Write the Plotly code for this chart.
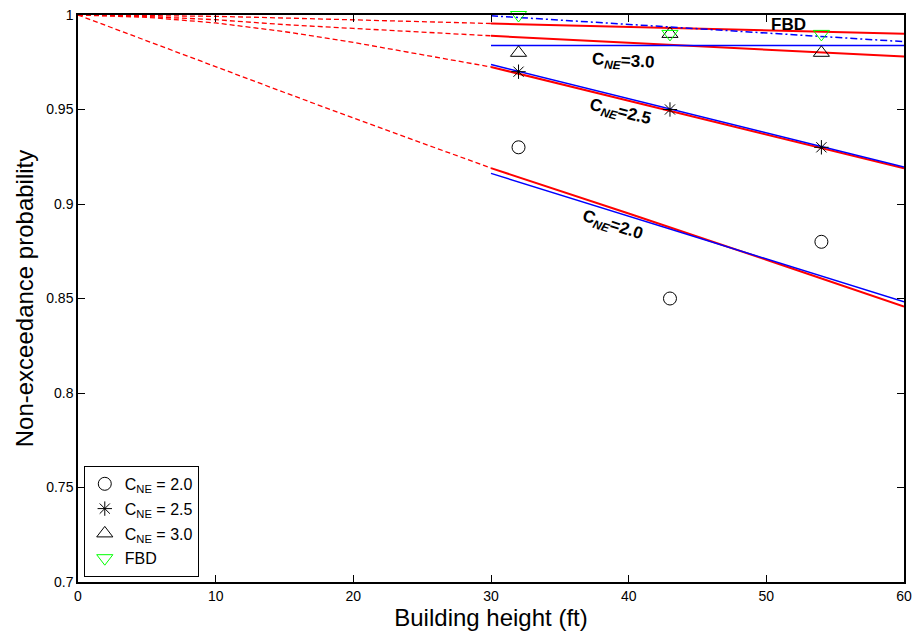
import plotly.graph_objects as go

# Building heights (ft) for the fitted curves and the observations
fit_heights_low = [0, 5, 10, 15, 20, 25, 30]
fit_heights_high = [30, 40, 50, 60]
lin_heights = [30, 60]
obs_heights = [32, 43, 54]

# Fitted non-exceedance curves (red): dashed below 30 ft, solid above
red_ne20_low = [1.0, 0.9862, 0.9725, 0.959, 0.9455, 0.9322, 0.919]
red_ne20_high = [0.919, 0.895, 0.8705, 0.8457]
red_ne25_low = [1.0, 0.9988, 0.9958, 0.9912, 0.9855, 0.979, 0.9725]
red_ne25_high = [0.9725, 0.9546, 0.9368, 0.9189]
red_ne30_low = [1.0, 0.9992, 0.9975, 0.9949, 0.9929, 0.991, 0.989]
red_ne30_high = [0.989, 0.9853, 0.9817, 0.978]
red_fbd_low = [1.0, 0.9998, 0.9993, 0.9984, 0.9975, 0.9965, 0.9955]
red_fbd_high = [0.9955, 0.9937, 0.9919, 0.9901]

# Linear trends (blue) over 30-60 ft
blue_ne20 = [0.9162, 0.8483]
blue_ne25 = [0.9738, 0.9196]
blue_ne30 = [0.9838, 0.9838]
blue_fbd = [0.9996, 0.9859]

# Observed non-exceedance probabilities
obs_ne20 = [0.93, 0.85, 0.88]
obs_ne25 = [0.97, 0.95, 0.93]
obs_ne30 = [0.98, 0.99, 0.98]
obs_fbd = [1.0, 0.99, 0.99]

RED = "#ff0000"
BLUE = "#0000ff"
GREEN = "#00ff00"
FONT = "Arial, Liberation Sans, Helvetica, sans-serif"

fig = go.Figure()

for low, high in [(red_ne20_low, red_ne20_high), (red_ne25_low, red_ne25_high),
                  (red_ne30_low, red_ne30_high), (red_fbd_low, red_fbd_high)]:
    fig.add_trace(go.Scatter(x=fit_heights_low, y=low, mode="lines",
                             line=dict(color=RED, width=1.3, dash="5px,3px"),
                             showlegend=False, hoverinfo="skip"))
    fig.add_trace(go.Scatter(x=fit_heights_high, y=high, mode="lines",
                             line=dict(color=RED, width=2),
                             showlegend=False, hoverinfo="skip"))

for vals in [blue_ne20, blue_ne25, blue_ne30]:
    fig.add_trace(go.Scatter(x=lin_heights, y=vals, mode="lines",
                             line=dict(color=BLUE, width=1.5),
                             showlegend=False, hoverinfo="skip"))
fig.add_trace(go.Scatter(x=lin_heights, y=blue_fbd, mode="lines",
                         line=dict(color=BLUE, width=1.5, dash="7px,3px,2px,3px"),
                         showlegend=False, hoverinfo="skip"))

markers = [
    ("C<sub>NE</sub> = 2.0", obs_ne20, "circle-open", "black", 13),
    ("C<sub>NE</sub> = 2.5", obs_ne25, "asterisk-open", "black", 12),
    ("C<sub>NE</sub> = 3.0", obs_ne30, "triangle-up-open", "black", 14),
    ("FBD", obs_fbd, "triangle-down-open", GREEN, 14),
]
for i, (name, vals, sym, col, size) in enumerate(markers):
    fig.add_trace(go.Scatter(x=obs_heights, y=vals, mode="markers", name=name,
                             legendgroup=str(i), cliponaxis=False,
                             marker=dict(symbol=sym, size=size, color=col,
                                         line=dict(color=col, width=1))))

label_font = dict(family=FONT, size=17, color="black")
labels = [
    ("<b>C<sub><i>NE</i></sub>=3.0</b>", 39.6, 0.9752, 3),
    ("<b>C<sub><i>NE</i></sub>=2.5</b>", 39.4, 0.9484, 14),
    ("<b>C<sub><i>NE</i></sub>=2.0</b>", 38.8, 0.8882, 18),
    ("<b>FBD</b>", 51.6, 0.9952, 0),
]
for text, x, y, ang in labels:
    fig.add_annotation(x=x, y=y, text=text, showarrow=False, textangle=ang,
                       font=label_font, xref="x", yref="y")

axis_common = dict(
    showgrid=False, zeroline=False, showline=True, linecolor="black",
    linewidth=1.5, mirror="ticks", ticks="inside", ticklen=7,
    tickcolor="black", tickwidth=1, automargin=False,
    tickfont=dict(family=FONT, size=14, color="black"),
)

fig.update_layout(
    width=916, height=632,
    margin=dict(l=78, r=12, t=15, b=50),
    plot_bgcolor="white", paper_bgcolor="white",
    font=dict(family=FONT, color="black"),
    xaxis=dict(range=[0, 60], tickvals=[0, 10, 20, 30, 40, 50, 60],
               title=dict(text="Building height (ft)", standoff=2,
                          font=dict(family=FONT, size=24)),
               **axis_common),
    yaxis=dict(range=[0.7, 1], tickvals=[0.7, 0.75, 0.8, 0.85, 0.9, 0.95, 1],
               ticktext=["0.7", "0.75", "0.8", "0.85", "0.9", "0.95", "1"],
               title=dict(text="Non-exceedance probability", standoff=6,
                          font=dict(family=FONT, size=24)),
               **axis_common),
    legend=dict(x=0.007, y=0.009, xanchor="left", yanchor="bottom",
                bordercolor="black", borderwidth=1, bgcolor="white",
                font=dict(family=FONT, size=16, color="black"),
                tracegroupgap=1, itemwidth=30),
)

fig.write_html("out.html")
